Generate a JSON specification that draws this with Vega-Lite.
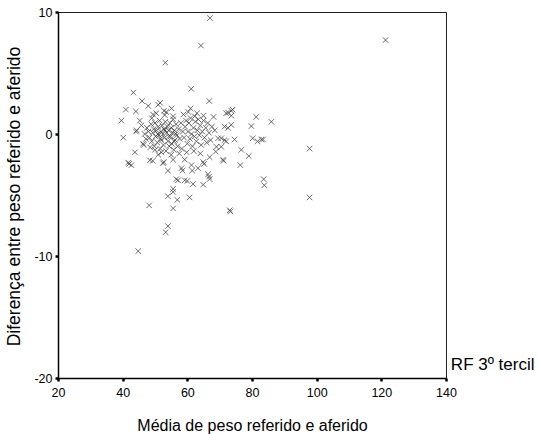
{
  "$schema": "https://vega.github.io/schema/vega-lite/v6.json",
  "width": 388,
  "height": 366,
  "autosize": {"type": "none"},
  "padding": {"left": 58, "top": 12, "right": 92, "bottom": 56},
  "background": "white",
  "config": {
    "view": {"stroke": "#222", "strokeWidth": 1},
    "font": "Liberation Sans",
    "axis": {"grid": false, "domainColor": "black", "domainWidth": 1.5, "tickColor": "black", "tickSize": 3, "tickWidth": 2.5, "labelColor": "black", "labelFont": "Liberation Sans", "labelFontSize": 12.5, "labelFlush": false, "labelOverlap": false, "labelExpr": "'' + datum.value", "titleFont": "Liberation Sans", "titleFontWeight": "normal", "titleColor": "black"}
  },
  "layer": [
    {
      "data": {"values": [
        {"x":67,"y":9.5},{"x":64.2,"y":7.25},{"x":53.2,"y":5.85},{"x":121.3,"y":7.7},
        {"x":43.3,"y":3.4},{"x":61.2,"y":3.7},{"x":66.8,"y":2.7},{"x":46,"y":2.7},{"x":47.9,"y":2.3},{"x":51,"y":2.4},{"x":51.6,"y":2.55},{"x":52.8,"y":1.9},{"x":55.1,"y":2.1},{"x":61,"y":2.1},{"x":41,"y":2.0},{"x":39.6,"y":1.1},{"x":40.2,"y":-0.3},{"x":44.1,"y":1.85},{"x":45.3,"y":1.1},{"x":44.3,"y":0.3},{"x":44.1,"y":0.2},{"x":43.8,"y":-1.5},{"x":41.7,"y":-2.35},{"x":42,"y":-2.45},{"x":42.7,"y":-2.55},{"x":46.3,"y":-0.8},{"x":46.5,"y":-0.9},{"x":48.4,"y":-2.15},{"x":49.3,"y":-2.2},{"x":51,"y":-1.7},{"x":52.5,"y":-2.4},{"x":52.7,"y":-2.3},{"x":55.6,"y":-2.1},{"x":59.2,"y":-2.1},{"x":61.3,"y":-2.55},{"x":64.9,"y":-2.3},{"x":65.2,"y":-2.45},{"x":66.9,"y":-1.9},{"x":68.8,"y":-1.45},{"x":71.2,"y":-2.2},{"x":71,"y":-2.1},{"x":69,"y":-1.05},{"x":70.5,"y":-1.05},{"x":76.7,"y":-1.3},{"x":79,"y":-1.8},{"x":76.4,"y":-2.55},
        {"x":49.4,"y":1.6},{"x":50.4,"y":1.7},{"x":53,"y":1.55},{"x":55.6,"y":1.45},{"x":62.3,"y":1.45},{"x":65,"y":1.5},{"x":68.1,"y":1.4},{"x":72,"y":1.7},{"x":72.6,"y":1.75},{"x":73.6,"y":1.9},{"x":74,"y":2.0},{"x":73.6,"y":1.5},{"x":81.3,"y":1.4},{"x":86,"y":1.0},{"x":79.8,"y":0.65},{"x":71.5,"y":0.6},{"x":72.6,"y":0.5},{"x":73.6,"y":0.75},{"x":68.5,"y":0.3},{"x":69.5,"y":-0.35},{"x":70.5,"y":-0.35},{"x":71.5,"y":-0.5},{"x":72,"y":-0.6},{"x":74.6,"y":-0.45},{"x":80.2,"y":-0.35},{"x":81.7,"y":-0.6},{"x":82.9,"y":-0.45},{"x":83.4,"y":-0.45},{"x":97.8,"y":-1.2},{"x":97.8,"y":-5.2},{"x":83.6,"y":-3.7},{"x":83.8,"y":-4.2},
        {"x":54,"y":-3.0},{"x":58.2,"y":-2.8},{"x":58.5,"y":-3.0},{"x":61.5,"y":-3.0},{"x":63.3,"y":-2.8},{"x":56.6,"y":-3.7},{"x":57.1,"y":-3.8},{"x":59.2,"y":-3.8},{"x":60,"y":-3.85},{"x":61.8,"y":-4.1},{"x":64.9,"y":-4.15},{"x":66.4,"y":-3.3},{"x":66.7,"y":-3.5},{"x":66.9,"y":-3.7},{"x":55.6,"y":-4.5},{"x":54,"y":-5.1},{"x":55.6,"y":-4.75},{"x":56.9,"y":-5.4},{"x":60.7,"y":-5.2},{"x":48.2,"y":-5.85},{"x":55.6,"y":-6.1},{"x":54,"y":-7.55},{"x":53.3,"y":-8.05},{"x":44.8,"y":-9.6},{"x":73.1,"y":-6.25},{"x":73.3,"y":-6.35},
        {"x":47.5,"y":0.5},{"x":48,"y":0.2},{"x":48.3,"y":-0.3},{"x":48.8,"y":0.8},{"x":49,"y":-0.6},{"x":49.3,"y":0.1},{"x":49.6,"y":0.4},{"x":49.8,"y":-1.0},{"x":50,"y":0.9},{"x":50.2,"y":-0.2},{"x":50.5,"y":0.3},{"x":50.7,"y":-0.7},{"x":51,"y":0.6},{"x":51.2,"y":-0.1},{"x":51.4,"y":1.1},{"x":51.6,"y":-1.2},{"x":51.8,"y":0.2},{"x":52,"y":-0.5},{"x":52.2,"y":0.7},{"x":52.4,"y":0.0},{"x":52.6,"y":-0.9},{"x":52.8,"y":0.4},{"x":53,"y":-0.3},{"x":53.2,"y":1.0},{"x":53.4,"y":-1.4},{"x":53.6,"y":0.1},{"x":53.8,"y":0.6},{"x":54,"y":-0.6},{"x":54.2,"y":0.3},{"x":54.4,"y":-1.0},{"x":54.6,"y":0.9},{"x":54.8,"y":-0.2},{"x":55,"y":0.5},{"x":55.2,"y":-0.8},{"x":55.4,"y":0.1},{"x":55.6,"y":1.2},{"x":55.8,"y":-1.3},{"x":56,"y":0.3},{"x":56.2,"y":-0.5},{"x":56.5,"y":0.8},{"x":56.8,"y":-0.1},{"x":57,"y":-1.0},{"x":57.3,"y":0.4},{"x":57.6,"y":-0.4},{"x":58,"y":0.9},{"x":58.3,"y":-1.2},{"x":58.6,"y":0.2},
        {"x":59,"y":-0.3},{"x":59.3,"y":0.6},{"x":59.6,"y":1.1},{"x":60,"y":-0.8},{"x":60.2,"y":0.2},{"x":60.5,"y":0.9},{"x":60.8,"y":-0.4},{"x":61,"y":1.3},{"x":61.3,"y":0.0},{"x":61.6,"y":-1.0},{"x":61.9,"y":0.5},{"x":62.2,"y":-0.2},{"x":62.5,"y":1.0},{"x":62.8,"y":-0.6},{"x":63.1,"y":0.3},{"x":63.4,"y":1.2},{"x":63.7,"y":-0.1},{"x":64,"y":0.7},{"x":64.3,"y":-0.9},{"x":64.6,"y":0.2},{"x":65,"y":1.1},{"x":65.3,"y":-0.3},{"x":65.7,"y":0.5},{"x":66,"y":-0.7},{"x":66.3,"y":0.9},{"x":66.7,"y":0.1},{"x":67.2,"y":-0.5},{"x":67.6,"y":0.6},{"x":59.8,"y":-1.5},{"x":62,"y":-1.4},{"x":64,"y":-1.6},{"x":57.5,"y":-1.6},{"x":55,"y":-1.7},{"x":52,"y":-1.5},{"x":50,"y":-1.3},{"x":48.5,"y":-1.1},
        {"x":46.8,"y":0.0},{"x":47.2,"y":-0.4},{"x":45.8,"y":0.7},{"x":49,"y":1.3},{"x":58.8,"y":1.6},{"x":63,"y":1.7},{"x":60.3,"y":1.8},{"x":53.5,"y":1.8},{"x":51.7,"y":-0.4},{"x":54.3,"y":-0.2},{"x":56.4,"y":0.0},{"x":53.1,"y":0.3},{"x":50.9,"y":0.0},{"x":55.9,"y":-0.6}
      ]},
      "mark": {"type": "point", "shape": "M-1,-1L1,1M-1,1L1,-1", "filled": false, "size": 30, "strokeWidth": 0.8, "color": "#333", "opacity": 0.9},
      "encoding": {
        "x": {"field": "x", "type": "quantitative", "scale": {"domain": [20, 140], "nice": false, "zero": false},
              "axis": {"values": [20,40,60,80,100,120,140], "title": "Média de peso referido e aferido", "titleFontSize": 16, "labelPadding": 5, "titleY": 47, "titleBaseline": "middle"}},
        "y": {"field": "y", "type": "quantitative", "scale": {"domain": [-20, 10], "nice": false, "zero": false},
              "axis": {"values": [-20,-10,0,10], "title": "Diferença entre peso referido e aferido", "titleFontSize": 17.5, "labelPadding": 3, "titleX": -44, "titleY": 184, "titleBaseline": "middle", "titleAngle": -90, "titleAlign": "center"}}
      }
    },
    {
      "data": {"values": [{"x": 141.5, "y": -18.9, "label": "RF 3º tercil"}]},
      "mark": {"type": "text", "align": "left", "baseline": "middle", "fontSize": 17, "font": "Liberation Sans", "color": "black", "clip": false},
      "encoding": {
        "x": {"field": "x", "type": "quantitative"},
        "y": {"field": "y", "type": "quantitative"},
        "text": {"field": "label"}
      }
    }
  ]
}
